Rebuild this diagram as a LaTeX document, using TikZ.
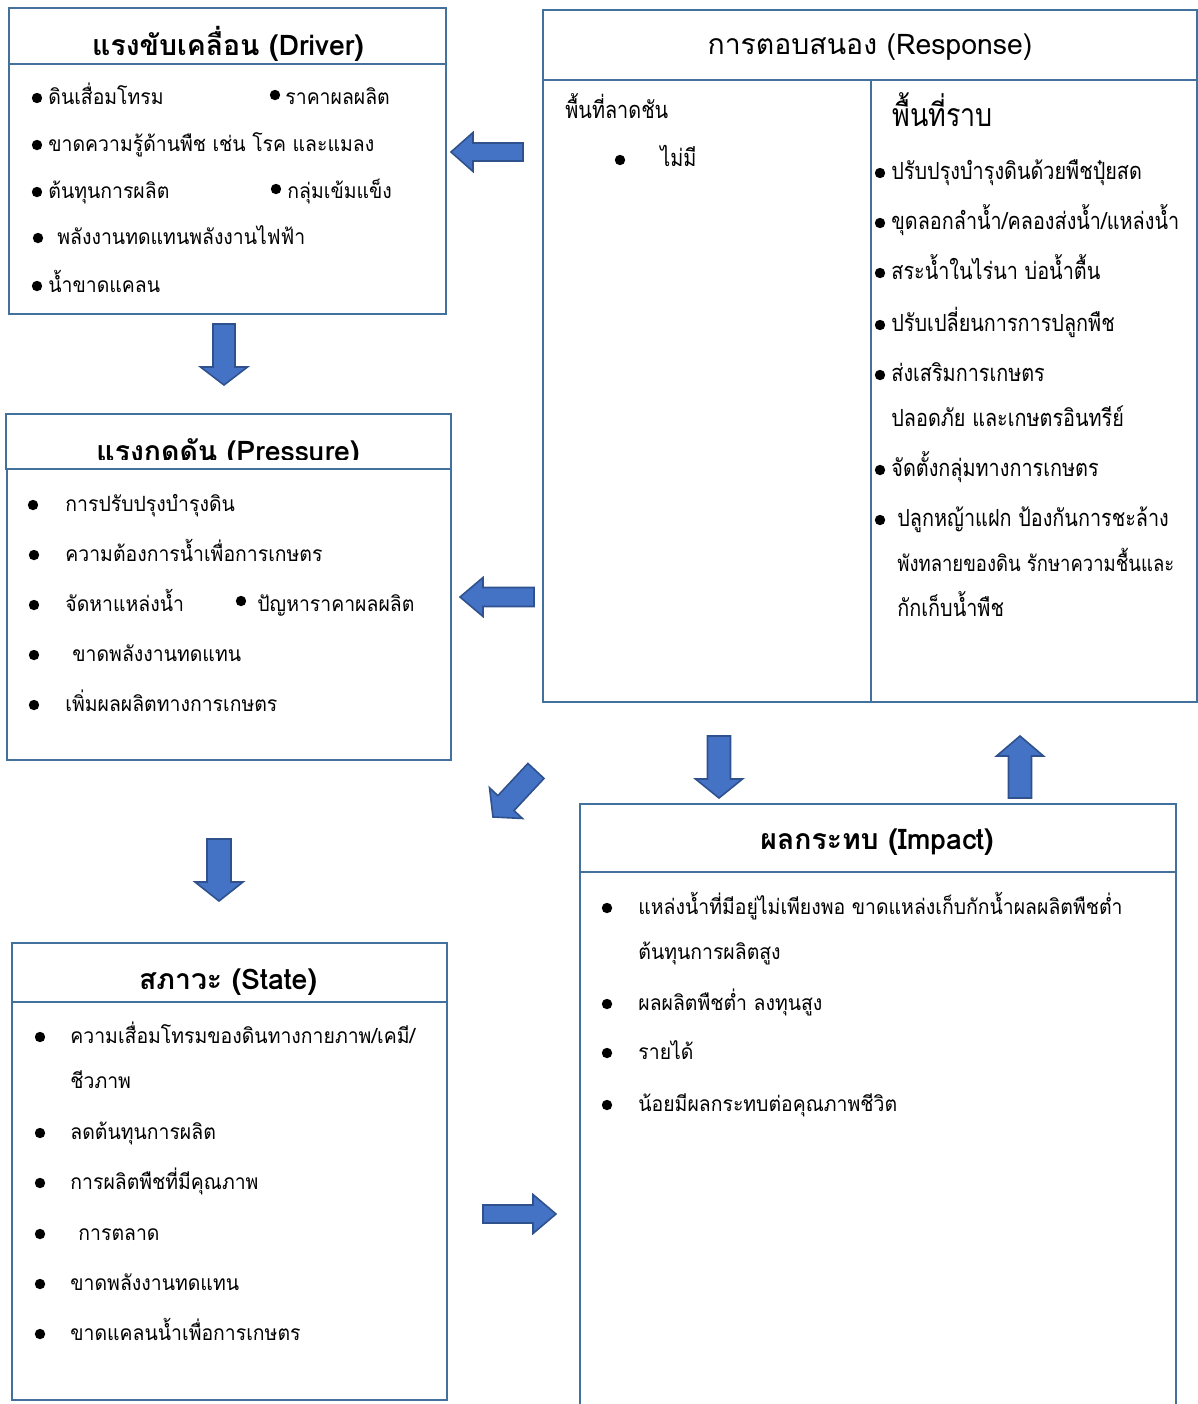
\documentclass[tikz,border=0pt]{standalone}
\usepackage{fontspec}
\newfontfamily\thaifont[Script=Thai]{Loma}
\newfontfamily\thaibody[Script=Thai,FakeStretch=0.925]{Loma}
\newfontfamily\thainarrow[Script=Thai,FakeStretch=0.84]{Loma}
\usepackage{tikz}
\usetikzlibrary{positioning}
\definecolor{panelblue}{HTML}{41719C}
\definecolor{arrowfill}{HTML}{4472C4}
\definecolor{arrowedge}{HTML}{2F528F}
\tikzset{
  panel/.style={draw=panelblue,line width=1.4pt},
  headtext/.style={inner sep=0pt,font=\thaifont\bfseries\fontsize{14.2}{16}\selectfont},
  item/.style={anchor=base west,inner sep=0pt,yshift=-3pt,font=\thaibody\fontsize{10.5}{12}\selectfont},
  itemn/.style={item,font=\thainarrow\fontsize{11.8}{13}\selectfont},
  blockarrow/.style={fill=arrowfill,draw=arrowedge,line width=0.8pt,line join=miter}
}
% tip x, tip y, direction, length, head length, shaft half width, head half width
\newcommand\blockarr[7]{%
  \begin{scope}[shift={(#1,#2)},rotate=#3]
    \draw[blockarrow] (0,0) -- (-#5,-#7) -- (-#5,-#6) -- (-#4,-#6)
      -- (-#4,#6) -- (-#5,#6) -- (-#5,#7) -- cycle;
  \end{scope}}
\newcommand\bul[2]{\fill (#1,#2) circle (2.6pt);}

\begin{document}
\begin{tikzpicture}[x=0.5pt,y=-0.5pt]
  \useasboundingbox (0,0) rectangle (1198,1404);

  % driver
  \draw[panel] (9,8) rectangle (446,64);
  \draw[panel] (9,64) rectangle (446,314);
  \node[headtext] (drvtitle) at (228,44) {แรงขับเคลื่อน (Driver)};
  \bul{37}{98}  \node[item] (d1) at (48,98) {ดินเสื่อมโทรม};
  \bul{275}{95} \node[item] (d2) at (285,98) {ราคาผลผลิต};
  \bul{37}{145} \node[item] (d3) at (48,145) {ขาดความรู้ด้านพืช เช่น โรค และแมลง};
  \bul{37}{192} \node[item] (d4) at (48,192) {ต้นทุนการผลิต};
  \bul{276}{189} \node[item] (d5) at (287,192) {กลุ่มเข้มแข็ง};
  \bul{38}{238} \node[item] (d6) at (57,238) {พลังงานทดแทนพลังงานไฟฟ้า};
  \bul{37}{286} \node[item] (d7) at (48,286) {น้ำขาดแคลน};

  % pressure
  \draw[panel] (6,414) rectangle (451,469);
  \draw[panel] (7,469) rectangle (451,760);
  \begin{scope}
    \clip (6,414) rectangle (451,459);
    \node[headtext] (prstitle) at (228,453) {แรงกดดัน (Pressure)};
  \end{scope}
  \bul{33}{505} \node[item] (p1) at (65,505) {การปรับปรุงบำรุงดิน};
  \bul{34}{555} \node[item] (p2) at (65,555) {ความต้องการน้ำเพื่อการเกษตร};
  \bul{34}{605} \node[item] (p3) at (65,605) {จัดหาแหล่งน้ำ};
  \bul{241}{601} \node[item] (p4) at (257,605) {ปัญหาราคาผลผลิต};
  \bul{34}{655} \node[item] (p5) at (72,655) {ขาดพลังงานทดแทน};
  \bul{34}{705} \node[item] (p6) at (65,705) {เพิ่มผลผลิตทางการเกษตร};

  % state
  \draw[panel] (12,943) rectangle (447,1002);
  \draw[panel] (12,1002) rectangle (447,1400);
  \node[headtext] (sttitle) at (228,982) {สภาวะ (State)};
  \bul{40}{1037} \node[item] (s1) at (70,1037) {ความเสื่อมโทรมของดินทางกายภาพ/เคมี/};
  \node[item] (s1b) at (70,1082) {ชีวภาพ};
  \bul{40}{1133} \node[item] (s2) at (70,1133) {ลดต้นทุนการผลิต};
  \bul{40}{1183} \node[item] (s3) at (70,1183) {การผลิตพืชที่มีคุณภาพ};
  \bul{40}{1234} \node[item] (s4) at (78,1234) {การตลาด};
  \bul{40}{1284} \node[item] (s5) at (70,1284) {ขาดพลังงานทดแทน};
  \bul{40}{1334} \node[item] (s6) at (70,1334) {ขาดแคลนน้ำเพื่อการเกษตร};

  % impact
  \draw[panel] (580,804) rectangle (1176,872);
  \draw[panel] (580,1404) -- (580,872) -- (1176,872) -- (1176,1404);
  \node[headtext] (imptitle) at (877,842) {ผลกระทบ (Impact)};
  \bul{607}{908} \node[item] (i1) at (638,908) {แหล่งน้ำที่มีอยู่ไม่เพียงพอ ขาดแหล่งเก็บกักน้ำผลผลิตพืชต่ำ};
  \node[item] (i1b) at (638,953) {ต้นทุนการผลิตสูง};
  \bul{607}{1004} \node[item] (i2) at (638,1004) {ผลผลิตพืชต่ำ ลงทุนสูง};
  \bul{607}{1053} \node[item] (i3) at (638,1053) {รายได้};
  \bul{607}{1105} \node[item] (i4) at (638,1105) {น้อยมีผลกระทบต่อคุณภาพชีวิต};

  % response
  \draw[panel] (543,10) rectangle (1197,80);
  \draw[panel] (543,80) rectangle (871,702);
  \draw[panel] (871,80) rectangle (1197,702);
  \node[inner sep=0pt,font=\thaifont\fontsize{14.2}{16}\selectfont] (restitle) at (870,47) {การตอบสนอง (Response)};
  \node[itemn] (slope) at (565,112) {พื้นที่ลาดชัน};
  \bul{620}{160} \node[itemn] (r0) at (660,160) {ไม่มี};
  \node[itemn,font=\thainarrow\fontsize{16}{18}\selectfont] (plain) at (892,120) {พื้นที่ราบ};
  \bul{880}{173} \node[itemn] (r1) at (891,173) {ปรับปรุงบำรุงดินด้วยพืชปุ๋ยสด};
  \bul{880}{223} \node[itemn] (r2) at (891,223) {ขุดลอกลำน้ำ/คลองส่งน้ำ/แหล่งน้ำ};
  \bul{880}{273} \node[itemn] (r3) at (891,273) {สระน้ำในไร่นา บ่อน้ำตื้น};
  \bul{880}{325} \node[itemn] (r4) at (891,325) {ปรับเปลี่ยนการการปลูกพืช};
  \bul{880}{375} \node[itemn] (r5) at (891,375) {ส่งเสริมการเกษตร};
  \node[itemn] (r5b) at (891,420) {ปลอดภัย และเกษตรอินทรีย์};
  \bul{880}{470} \node[itemn] (r6) at (891,470) {จัดตั้งกลุ่มทางการเกษตร};
  \bul{880}{520} \node[itemn] (r7) at (897,520) {ปลูกหญ้าแฝก ป้องกันการชะล้าง};
  \node[itemn,font=\thainarrow\fontsize{11}{13}\selectfont] (r7b) at (897,565) {พังทลายของดิน รักษาความชื้นและ};
  \node[itemn] (r7c) at (897,610) {กักเก็บน้ำพืช};

  % arrows
  \blockarr{451}{152}{180}{72}{22}{9}{19.5}
  \blockarr{224}{385}{270}{61}{18}{11}{23.5}
  \blockarr{460}{597}{180}{74}{23}{9.5}{19.5}
  \blockarr{493}{817}{227}{63}{19}{11}{22.5}
  \blockarr{719}{798}{270}{62}{19}{11.5}{23.5}
  \blockarr{1020}{736}{90}{62}{20}{11.5}{23.5}
  \blockarr{219}{901}{270}{62}{19}{12}{24}
  \blockarr{556}{1214}{0}{73}{23}{9}{19.5}
\end{tikzpicture}
\end{document}
